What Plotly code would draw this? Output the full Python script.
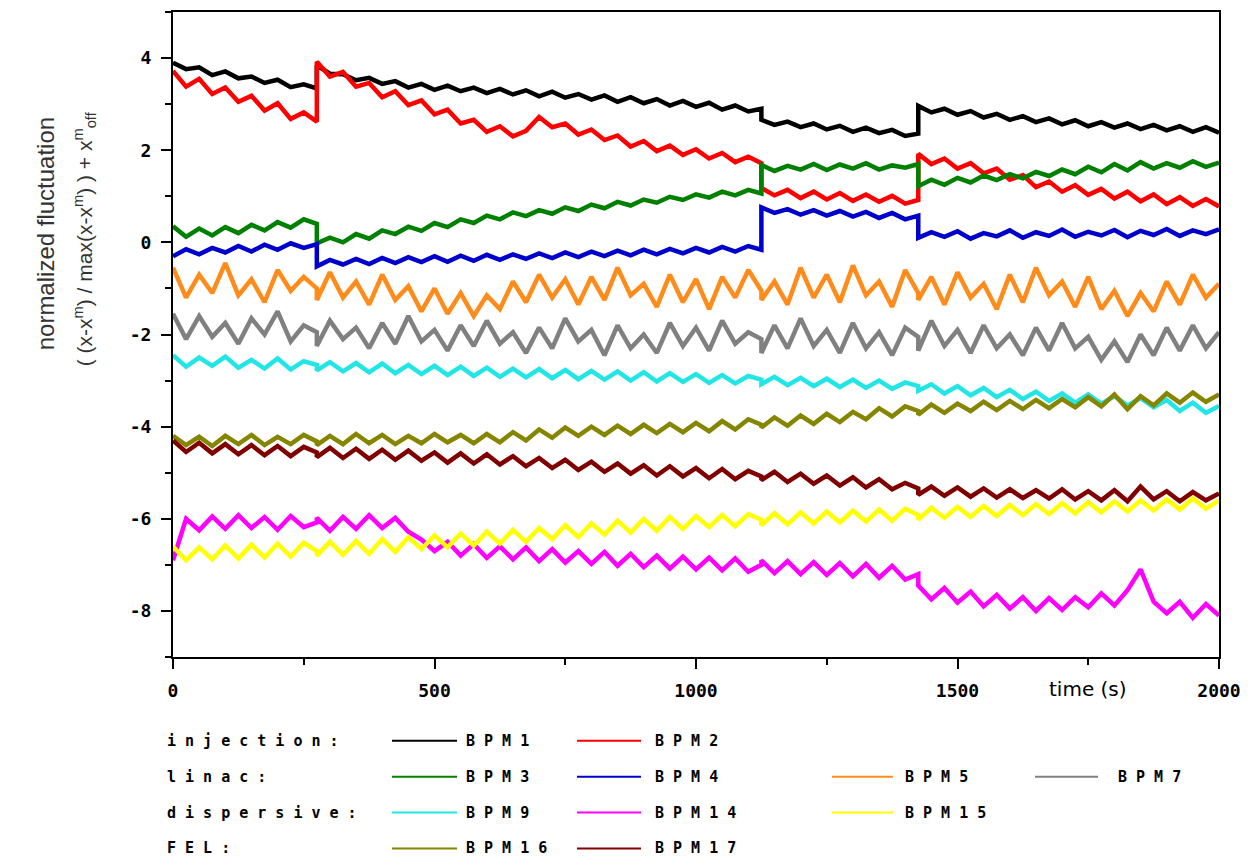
import plotly.graph_objects as go

# ---------------- data ----------------
# sample times; 275, 1125 and 1425 appear twice (value before / after the orbit jumps)
time_s = (list(range(0, 276, 25)) + list(range(275, 1126, 25)) +
          list(range(1125, 1426, 25)) + list(range(1425, 2001, 25)))

bpm1 = [3.90, 3.76, 3.80, 3.63, 3.71, 3.56, 3.60, 3.46, 3.53, 3.37, 3.43, 3.34,
        3.84, 3.66, 3.65, 3.52, 3.57, 3.44, 3.50, 3.36, 3.44, 3.31, 3.40, 3.28, 3.36, 3.24, 3.33,
        3.21, 3.30, 3.17, 3.27, 3.14, 3.22, 3.10, 3.19, 3.05, 3.15, 3.02, 3.11, 2.97, 3.07, 2.94,
        3.03, 2.88, 2.97, 2.84, 2.90,
        2.66, 2.55, 2.62, 2.50, 2.58, 2.45, 2.53, 2.40, 2.49, 2.37, 2.44, 2.31, 2.36,
        2.96, 2.82, 2.90, 2.77, 2.85, 2.71, 2.79, 2.66, 2.74, 2.61, 2.69, 2.56, 2.65, 2.52, 2.61,
        2.49, 2.58, 2.46, 2.55, 2.43, 2.52, 2.40, 2.50, 2.38]
bpm2 = [3.72, 3.38, 3.55, 3.22, 3.36, 3.05, 3.18, 2.86, 3.02, 2.68, 2.82, 2.62,
        3.92, 3.60, 3.70, 3.38, 3.46, 3.15, 3.28, 2.98, 3.08, 2.78, 2.88, 2.58, 2.66, 2.40, 2.52,
        2.30, 2.42, 2.72, 2.50, 2.58, 2.34, 2.45, 2.22, 2.32, 2.08, 2.20, 1.98, 2.10, 1.90, 2.02,
        1.82, 1.94, 1.74, 1.86, 1.72,
        1.18, 1.02, 1.14, 0.96, 1.10, 0.93, 1.07, 0.90, 1.04, 0.88, 1.01, 0.84, 0.92,
        1.92, 1.70, 1.82, 1.60, 1.72, 1.50, 1.60, 1.36, 1.46, 1.20, 1.32, 1.10, 1.24, 1.03, 1.16,
        0.95, 1.10, 0.89, 1.04, 0.83, 0.98, 0.79, 0.94, 0.78]
bpm3 = [0.35, 0.12, 0.30, 0.15, 0.33, 0.20, 0.38, 0.26, 0.44, 0.32, 0.50, 0.40,
        -0.02, 0.10, 0.00, 0.18, 0.08, 0.26, 0.18, 0.34, 0.25, 0.42, 0.33, 0.50, 0.42, 0.58, 0.50,
        0.65, 0.57, 0.70, 0.62, 0.76, 0.68, 0.82, 0.74, 0.88, 0.80, 0.93, 0.86, 0.99, 0.92, 1.04,
        0.97, 1.10, 1.02, 1.14, 1.06,
        1.68, 1.55, 1.66, 1.58, 1.70, 1.57, 1.69, 1.60, 1.72, 1.58, 1.67, 1.62, 1.70,
        1.22, 1.36, 1.25, 1.40, 1.30, 1.45, 1.35, 1.48, 1.39, 1.53, 1.44, 1.58, 1.48, 1.64, 1.52,
        1.70, 1.56, 1.74, 1.60, 1.72, 1.62, 1.76, 1.64, 1.73]
bpm4 = [-0.30, -0.15, -0.26, -0.12, -0.22, -0.08, -0.20, -0.05, -0.16, -0.02, -0.12, -0.04,
        -0.52, -0.38, -0.48, -0.36, -0.47, -0.34, -0.45, -0.32, -0.43, -0.30, -0.42, -0.29, -0.40,
        -0.27, -0.38, -0.26, -0.36, -0.24, -0.34, -0.22, -0.32, -0.20, -0.30, -0.18, -0.28, -0.16,
        -0.26, -0.14, -0.24, -0.12, -0.22, -0.10, -0.20, -0.08, -0.16,
        0.76, 0.64, 0.72, 0.60, 0.70, 0.58, 0.68, 0.56, 0.66, 0.53, 0.64, 0.50, 0.58,
        0.10, 0.22, 0.12, 0.24, 0.08, 0.20, 0.13, 0.26, 0.10, 0.22, 0.14, 0.28, 0.12, 0.23, 0.15,
        0.27, 0.11, 0.25, 0.16, 0.29, 0.14, 0.26, 0.18, 0.28]
bpm5 = [-0.55, -1.20, -0.70, -1.10, -0.45, -1.15, -0.80, -1.30, -0.60, -1.05, -0.75, -1.00,
        -1.25, -0.65, -1.20, -0.85, -1.35, -0.70, -1.25, -0.95, -1.50, -1.00, -1.55, -1.10, -1.60,
        -1.15, -1.45, -0.85, -1.30, -0.70, -1.20, -0.80, -1.35, -0.75, -1.25, -0.55, -1.15, -0.90,
        -1.40, -0.70, -1.30, -0.80, -1.45, -0.75, -1.20, -0.60, -1.05,
        -1.25, -0.85, -1.35, -0.55, -1.20, -0.70, -1.30, -0.50, -1.15, -0.85, -1.40, -0.60, -1.10,
        -1.25, -0.75, -1.35, -0.65, -1.20, -0.90, -1.45, -0.70, -1.30, -0.55, -1.15, -0.85, -1.40,
        -0.75, -1.45, -1.05, -1.60, -1.10, -1.50, -0.85, -1.35, -0.70, -1.20, -0.90]
bpm7 = [-1.55, -2.10, -1.60, -2.05, -1.75, -2.20, -1.65, -2.00, -1.50, -2.15, -1.80, -1.95,
        -2.25, -1.70, -2.10, -1.85, -2.30, -1.75, -2.20, -1.60, -2.15, -1.90, -2.35, -1.80, -2.25,
        -1.70, -2.20, -1.95, -2.40, -1.85, -2.30, -1.65, -2.15, -1.90, -2.45, -1.80, -2.30, -2.00,
        -2.40, -1.75, -2.25, -1.85, -2.35, -1.70, -2.20, -1.95, -2.10,
        -2.40, -1.80, -2.30, -1.65, -2.25, -1.90, -2.40, -1.75, -2.30, -1.95, -2.45, -1.85, -2.05,
        -2.35, -1.70, -2.25, -1.90, -2.40, -1.80, -2.30, -2.00, -2.45, -1.85, -2.35, -1.75, -2.30,
        -2.05, -2.55, -2.15, -2.60, -2.00, -2.45, -1.85, -2.35, -1.80, -2.30, -1.95]
bpm9 = [-2.45, -2.70, -2.50, -2.68, -2.48, -2.72, -2.55, -2.74, -2.52, -2.76, -2.58, -2.66,
        -2.78, -2.60, -2.80, -2.62, -2.82, -2.63, -2.84, -2.66, -2.86, -2.68, -2.88, -2.70, -2.90,
        -2.72, -2.92, -2.74, -2.93, -2.75, -2.95, -2.77, -2.97, -2.79, -2.98, -2.80, -3.00, -2.82,
        -3.02, -2.84, -3.03, -2.86, -3.05, -2.88, -3.06, -2.90, -2.98,
        -3.08, -2.92, -3.10, -2.94, -3.12, -2.96, -3.14, -2.98, -3.16, -3.00, -3.18, -3.04, -3.12,
        -3.22, -3.08, -3.28, -3.12, -3.32, -3.16, -3.36, -3.20, -3.40, -3.24, -3.44, -3.28, -3.48,
        -3.30, -3.50, -3.34, -3.54, -3.38, -3.58, -3.42, -3.66, -3.48, -3.70, -3.55]
bpm14 = [-6.90, -6.00, -6.25, -5.95, -6.22, -5.92, -6.20, -5.96, -6.24, -5.94, -6.18, -6.08,
         -5.98, -6.26, -5.96, -6.22, -5.92, -6.20, -5.98, -6.28, -6.45, -6.70, -6.50, -6.80, -6.55,
         -6.85, -6.60, -6.88, -6.62, -6.92, -6.66, -6.95, -6.70, -6.98, -6.72, -7.02, -6.76, -7.05,
         -6.80, -7.08, -6.82, -7.10, -6.84, -7.12, -6.86, -7.15, -7.00,
         -6.90, -7.18, -6.92, -7.20, -6.94, -7.22, -6.96, -7.25, -6.98, -7.28, -7.02, -7.32, -7.20,
         -7.45, -7.75, -7.50, -7.82, -7.58, -7.90, -7.65, -7.95, -7.70, -8.00, -7.72, -7.98, -7.70,
         -7.92, -7.62, -7.88, -7.55, -7.10, -7.80, -8.05, -7.80, -8.15, -7.85, -8.10]
bpm15 = [-6.60, -6.90, -6.62, -6.88, -6.58, -6.86, -6.56, -6.84, -6.54, -6.82, -6.52, -6.70,
         -6.80, -6.50, -6.78, -6.48, -6.76, -6.44, -6.72, -6.40, -6.66, -6.36, -6.62, -6.32, -6.58,
         -6.28, -6.54, -6.24, -6.50, -6.20, -6.44, -6.14, -6.40, -6.10, -6.34, -6.04, -6.30, -6.00,
         -6.26, -5.96, -6.22, -5.94, -6.18, -5.92, -6.16, -5.90, -6.02,
         -6.14, -5.88, -6.12, -5.86, -6.10, -5.84, -6.08, -5.82, -6.06, -5.80, -6.04, -5.78, -5.92,
         -6.02, -5.76, -5.98, -5.74, -5.96, -5.72, -5.94, -5.70, -5.92, -5.68, -5.90, -5.66, -5.88,
         -5.64, -5.86, -5.62, -5.84, -5.60, -5.82, -5.58, -5.80, -5.56, -5.78, -5.60]
bpm16 = [-4.20, -4.40, -4.22, -4.42, -4.20, -4.38, -4.18, -4.40, -4.22, -4.38, -4.18, -4.32,
         -4.40, -4.20, -4.38, -4.16, -4.36, -4.18, -4.38, -4.20, -4.36, -4.16, -4.34, -4.18, -4.36,
         -4.16, -4.34, -4.12, -4.30, -4.06, -4.24, -4.02, -4.20, -4.00, -4.18, -3.98, -4.16, -3.96,
         -4.14, -3.94, -4.12, -3.92, -4.10, -3.88, -4.06, -3.84, -3.96,
         -4.02, -3.80, -3.98, -3.76, -3.94, -3.72, -3.90, -3.68, -3.84, -3.60, -3.78, -3.56, -3.66,
         -3.74, -3.52, -3.70, -3.50, -3.66, -3.46, -3.64, -3.44, -3.62, -3.42, -3.60, -3.40, -3.58,
         -3.36, -3.56, -3.30, -3.62, -3.34, -3.54, -3.28, -3.48, -3.26, -3.46, -3.30]
bpm17 = [-4.30, -4.55, -4.35, -4.58, -4.38, -4.60, -4.40, -4.62, -4.42, -4.64, -4.44, -4.56,
         -4.66, -4.46, -4.68, -4.48, -4.70, -4.50, -4.72, -4.52, -4.74, -4.56, -4.78, -4.58, -4.80,
         -4.60, -4.82, -4.64, -4.86, -4.68, -4.90, -4.72, -4.94, -4.76, -4.98, -4.80, -5.02, -4.84,
         -5.06, -4.86, -5.08, -4.90, -5.12, -4.92, -5.14, -4.96, -5.08,
         -5.16, -4.98, -5.20, -5.02, -5.24, -5.06, -5.28, -5.10, -5.32, -5.14, -5.36, -5.22, -5.34,
         -5.48, -5.30, -5.50, -5.32, -5.52, -5.34, -5.54, -5.36, -5.55, -5.38, -5.56, -5.36, -5.58,
         -5.40, -5.60, -5.38, -5.62, -5.30, -5.58, -5.40, -5.62, -5.42, -5.60, -5.45]

series_names = ["BPM1", "BPM2", "BPM3", "BPM4", "BPM5", "BPM7",
                "BPM9", "BPM14", "BPM15", "BPM16", "BPM17"]
series_values = [bpm1, bpm2, bpm3, bpm4, bpm5, bpm7, bpm9, bpm14, bpm15, bpm16, bpm17]
series_colors = ["#000000", "#ff0000", "#008000", "#0000cc", "#ff8c1a", "#808080",
                 "#22e5e5", "#ff00ff", "#ffff00", "#858500", "#800000"]

groups = ["injection:", "linac:", "dispersive:", "FEL:"]
group_members = [["BPM1", "BPM2"], ["BPM3", "BPM4", "BPM5", "BPM7"],
                 ["BPM9", "BPM14", "BPM15"], ["BPM16", "BPM17"]]

y_ticks = [-8, -6, -4, -2, 0, 2, 4]
x_ticks = [0, 500, 1000, 1500, 2000]

# ---------------- figure ----------------
W, H = 1255, 864
L, R, T, B = 173, 36, 10, 207
PW, PH = W - L - R, H - T - B


def px(xp):
    return (xp - L) / PW


def py(yp):
    return (H - B - yp) / PH


fig = go.Figure()
for name, vals, col in zip(series_names, series_values, series_colors):
    fig.add_trace(go.Scatter(
        x=time_s, y=vals, mode="lines", name=name,
        line=dict(color=col, width=4.5, shape="linear"),
        showlegend=False, hoverinfo="skip"))

tick_font = dict(family="DejaVu Sans Mono", size=18, color="#000000", weight="bold")

fig.update_xaxes(
    range=[0, 2000], tickvals=x_ticks, ticktext=[str(v) for v in x_ticks],
    ticks="outside", ticklen=10, tickwidth=2, tickcolor="#000",
    minor=dict(dtick=250, tick0=0, ticks="outside", ticklen=6, tickwidth=2, tickcolor="#000"),
    showline=True, linecolor="#000", linewidth=2, mirror=True,
    showgrid=False, zeroline=False, tickfont=tick_font, ticklabelstandoff=6)
fig.update_yaxes(
    range=[-9, 5], tickvals=y_ticks, ticktext=[str(v) for v in y_ticks],
    ticks="outside", ticklen=10, tickwidth=2, tickcolor="#000",
    minor=dict(dtick=1, tick0=-9, ticks="outside", ticklen=6, tickwidth=2, tickcolor="#000"),
    showline=True, linecolor="#000", linewidth=2, mirror=True,
    showgrid=False, zeroline=False, tickfont=tick_font, ticklabelstandoff=6)

annotations = [
    dict(text="time (s)", x=px(1088), y=py(689), xref="paper", yref="paper",
         showarrow=False, xanchor="center", yanchor="middle",
         font=dict(family="DejaVu Sans", size=20, color="#000")),
    dict(text="normalized fluctuation", x=px(45), y=py(233), xref="paper", yref="paper",
         showarrow=False, textangle=-90, xanchor="center", yanchor="middle",
         font=dict(family="Liberation Sans, Arial", size=24, color="#333")),
    dict(text="( (x-x<sup>m</sup>) / max(x-x<sup>m</sup>) ) + x<sup>m</sup><sub>off</sub>",
         x=px(84), y=py(238), xref="paper", yref="paper",
         showarrow=False, textangle=-90, xanchor="center", yanchor="middle",
         font=dict(family="Liberation Sans, Arial", size=21, color="#333")),
]

shapes = []
row_y = [741, 777, 813, 849]
line_x0 = [392, 577, 832, 1035]
line_x1 = [457, 641, 893, 1098]
text_x0 = [464, 653, 903, 1116]
legend_font = dict(family="DejaVu Sans Mono", size=15, color="#000", weight="bold")


def spaced(s):
    return " ".join(list(s))


for r, (g, members) in enumerate(zip(groups, group_members)):
    annotations.append(dict(text=spaced(g), x=px(165), y=py(row_y[r]), xref="paper",
                            yref="paper", showarrow=False, xanchor="left",
                            yanchor="middle", font=legend_font))
    for c, m in enumerate(members):
        col = series_colors[series_names.index(m)]
        shapes.append(dict(type="line", xref="paper", yref="paper",
                           x0=px(line_x0[c]), x1=px(line_x1[c]),
                           y0=py(row_y[r]), y1=py(row_y[r]),
                           line=dict(color=col, width=2)))
        annotations.append(dict(text=spaced(m), x=px(text_x0[c]), y=py(row_y[r]),
                                xref="paper", yref="paper", showarrow=False,
                                xanchor="left", yanchor="middle", font=legend_font))

fig.update_layout(
    width=W, height=H, autosize=False,
    margin=dict(l=L, r=R, t=T, b=B, pad=0),
    paper_bgcolor="#ffffff", plot_bgcolor="#ffffff",
    annotations=annotations, shapes=shapes, showlegend=False)

fig.write_html("out.html", config={"displayModeBar": False})
